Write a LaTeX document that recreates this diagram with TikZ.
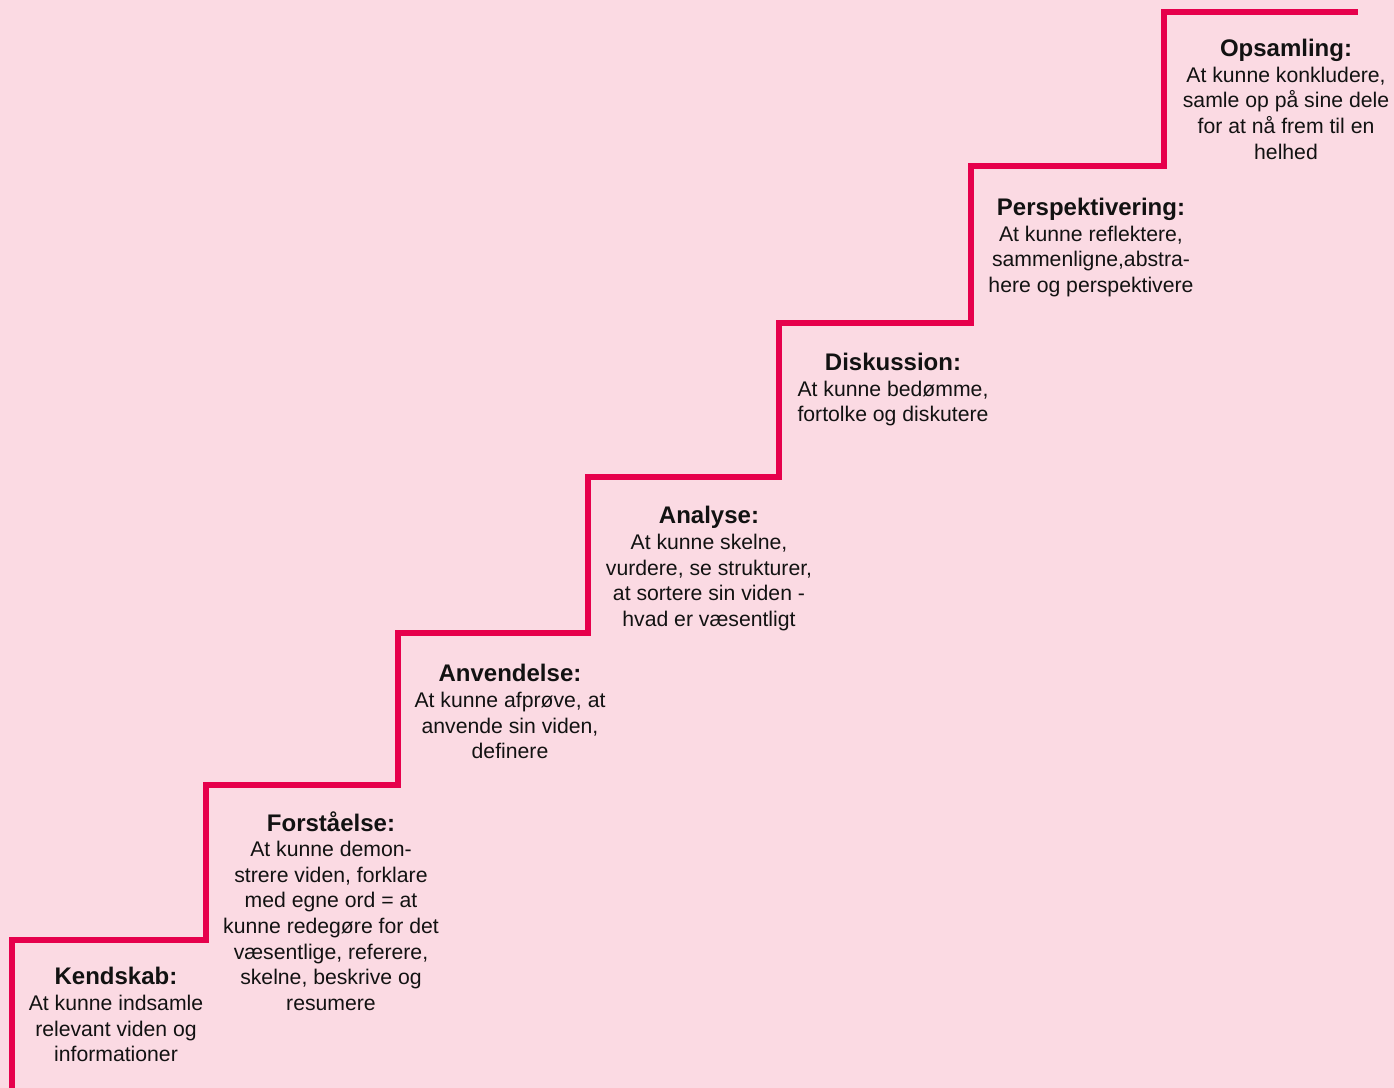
\documentclass[tikz,border=0pt]{standalone}
\usepackage{fontspec}
\setmainfont{Liberation Sans}
\usetikzlibrary{positioning}

\definecolor{bgpink}{RGB}{251,218,227}
\definecolor{stairred}{RGB}{230,0,76}

\tikzset{
  trappe/.style={draw=stairred, line width=2.6pt},
  trintekst/.style={anchor=north, align=center, inner sep=0pt, text=black!93,
                    font=\fontsize{10.6}{12.8}\selectfont},
}
\newcommand{\trintitel}[1]{{\fontsize{12}{12.8}\selectfont\bfseries #1}}

\begin{document}
\begin{tikzpicture}[x=0.5pt,y=-0.5pt]

   \fill[bgpink] (0,0) rectangle (1394,1088);
   \useasboundingbox (0,0) rectangle (1394,1088);

   % the stairs
   \draw[trappe] (12,1088) |- (206,940) |- (398,785) |- (588,633) |- (779,477)
                 |- (971,323) |- (1164,166) |- (1358,12);

   \node[trintekst] (kendskab)   at (116,967)  {\trintitel{Kendskab:}\\At kunne indsamle\\relevant viden og\\informationer};
   \node[trintekst] (forstaaelse) at (331,811) {\trintitel{Forståelse:}\\At kunne demon-\\strere viden, forklare\\med egne ord = at\\kunne redegøre for det\\væsentlige, referere,\\skelne, beskrive og\\resumere};
   \node[trintekst] (anvendelse) at (510,664)  {\trintitel{Anvendelse:}\\At kunne afprøve, at\\anvende sin viden,\\definere};
   \node[trintekst] (analyse)    at (709,506)  {\trintitel{Analyse:}\\At kunne skelne,\\vurdere, se strukturer,\\at sortere sin viden -\\hvad er væsentligt};
   \node[trintekst] (diskussion) at (893,353)  {\trintitel{Diskussion:}\\At kunne bedømme,\\fortolke og diskutere};
   \node[trintekst] (perspektiv) at (1091,198) {\trintitel{Perspektivering:}\\At kunne reflektere,\\sammenligne,abstra-\\here og perspektivere};
   \node[trintekst] (opsamling)  at (1286,39)  {\trintitel{Opsamling:}\\At kunne konkludere,\\samle op på sine dele\\for at nå frem til en\\helhed};

\end{tikzpicture}
\end{document}
